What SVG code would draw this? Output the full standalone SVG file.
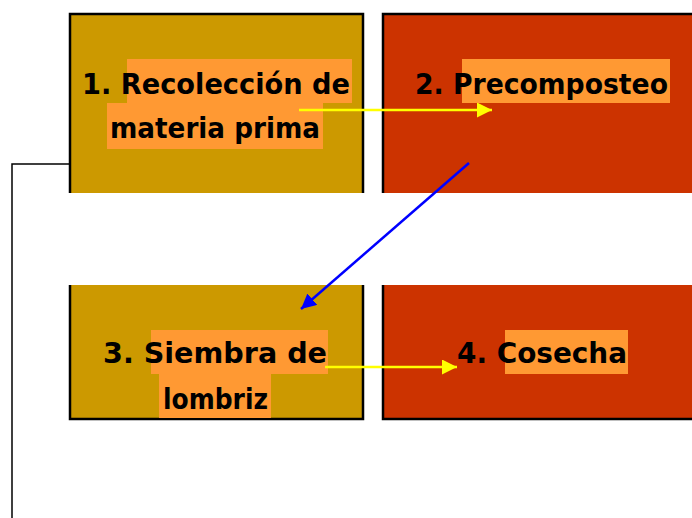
<svg xmlns="http://www.w3.org/2000/svg" width="692" height="518" viewBox="0 0 692 518">
<style>
.gold{fill:#CC9900}
.red{fill:#CC3300}
.edge{fill:none;stroke:#000;stroke-width:2.5}
.hl{fill:#FF9933}
.lbl{font-family:"Comic Sans MS","DejaVu Sans",sans-serif;font-weight:bold;font-size:28px;fill:#000}
.conn{fill:none;stroke-width:2.5}
</style>
<defs>
<marker id="ay" markerWidth="7" markerHeight="7" refX="6" refY="3" orient="auto" markerUnits="strokeWidth"><path d="M0,0 L6,3 L0,6 Z" fill="#FFFF00"/></marker>
<marker id="ab" markerWidth="7" markerHeight="7" refX="6" refY="3" orient="auto" markerUnits="strokeWidth"><path d="M0,0 L6,3 L0,6 Z" fill="#0000FF"/></marker>
</defs>
<rect width="692" height="518" fill="#fff"/>
<g id="node1">
<rect class="gold" x="70" y="14" width="293" height="179"/>
<path class="edge" d="M70,193 V14 H363 V193"/>
<rect class="hl" x="127" y="59" width="225" height="44"/>
<rect class="hl" x="107" y="103" width="216" height="46"/>
<text class="lbl" x="82" y="94" textLength="268" lengthAdjust="spacingAndGlyphs">1. Recolección de</text>
<text class="lbl" x="110" y="138" textLength="210" lengthAdjust="spacingAndGlyphs">materia prima</text>
</g>
<g id="node2">
<rect class="red" x="383" y="14" width="316" height="179"/>
<path class="edge" d="M383,193 V14 H700"/>
<rect class="hl" x="462" y="59" width="208" height="44"/>
<text class="lbl" x="415" y="94" textLength="253" lengthAdjust="spacingAndGlyphs">2. Precomposteo</text>
</g>
<g id="node3">
<rect class="gold" x="70" y="285" width="293" height="134"/>
<path class="edge" d="M70,285 V419 H363 V285"/>
<rect class="hl" x="151" y="330" width="177" height="44"/>
<rect class="hl" x="159" y="374" width="112" height="44"/>
<text class="lbl" x="103" y="363" textLength="224" lengthAdjust="spacingAndGlyphs">3. Siembra de</text>
<text class="lbl" x="163" y="409" textLength="105" lengthAdjust="spacingAndGlyphs">lombriz</text>
</g>
<g id="node4">
<rect class="red" x="383" y="285" width="316" height="134"/>
<path class="edge" d="M383,285 V419 H700"/>
<rect class="hl" x="505" y="330" width="123" height="44"/>
<text class="lbl" x="457" y="363" textLength="170" lengthAdjust="spacingAndGlyphs">4. Cosecha</text>
</g>
<g id="connectors">
<path class="conn" stroke="#FFFF00" d="M299,110 H492" marker-end="url(#ay)"/>
<path class="conn" stroke="#0000FF" d="M469,163 L301,309" marker-end="url(#ab)"/>
<path class="conn" stroke="#FFFF00" d="M325,367 H457" marker-end="url(#ay)"/>
<path fill="none" stroke="#000" stroke-width="1.5" d="M71,164 H12 V518"/>
</g>
</svg>
